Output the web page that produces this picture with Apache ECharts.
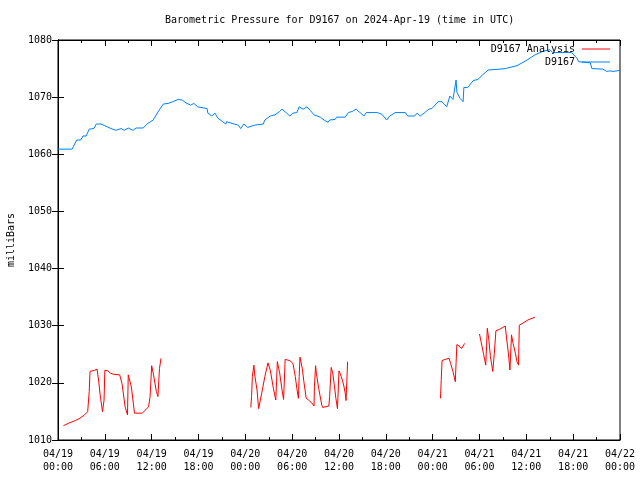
<!DOCTYPE html>
<html>
<head>
<meta charset="utf-8">
<script src="https://cdn.jsdelivr.net/npm/echarts@6/dist/echarts.min.js"></script>
<style>html,body{margin:0;padding:0;background:#fff}#c{width:640px;height:480px}</style>
</head>
<body>
<div id="c"></div>
<script>
// Hours since 2024-04-19 00:00 UTC
var blueHours = [0.0,1.8,2.4,2.9,3.2,3.6,4.0,4.6,4.9,5.5,5.7,6.0,6.8,7.4,8.1,8.5,9.0,9.6,10.0,10.9,11.5,12.2,12.8,13.5,14.1,14.7,15.4,15.9,16.4,17.0,17.4,17.9,19.1,19.2,19.7,20.1,20.5,21.1,21.5,21.6,22.3,23.1,23.4,23.8,24.3,25.2,26.3,26.5,27.2,27.8,28.4,28.7,29.3,29.7,30.1,30.6,30.9,31.4,31.9,32.3,32.8,33.6,34.2,34.6,34.8,35.5,35.7,36.8,37.2,37.7,38.2,38.7,39.2,39.5,40.9,41.5,42.1,42.5,43.2,44.5,44.8,45.7,46.0,46.4,47.0,47.5,47.9,48.7,49.2,49.8,50.2,50.6,51.0,51.1,51.5,51.9,52.0,52.5,53.2,53.8,54.4,55.1,56.6,57.3,58.8,60.1,61.1,62.1,63.0,63.4,65.8,66.5,66.7,68.2,68.4,69.8,70.3,70.7,71.1,71.6,72.0];
var blueValues = [1060.9,1060.9,1062.5,1062.5,1063.2,1063.2,1064.4,1064.5,1065.3,1065.3,1065.6,1065.0,1064.5,1064.2,1064.5,1064.2,1064.6,1064.2,1064.6,1064.6,1065.4,1066.0,1067.4,1068.8,1068.9,1069.2,1069.6,1069.5,1069.0,1068.6,1068.9,1068.3,1068.0,1067.2,1066.7,1067.2,1066.3,1065.7,1065.3,1065.7,1065.4,1065.1,1064.5,1065.3,1064.7,1065.1,1065.3,1066.0,1066.7,1066.9,1067.5,1067.9,1067.2,1066.7,1067.2,1067.3,1068.3,1067.9,1068.3,1067.7,1066.9,1066.5,1065.9,1065.6,1066.0,1066.1,1066.5,1066.5,1067.3,1067.5,1067.9,1067.3,1066.7,1067.3,1067.3,1067.0,1066.0,1066.7,1067.3,1067.3,1066.7,1066.7,1067.2,1066.7,1067.3,1067.9,1068.0,1069.2,1069.2,1068.3,1070.2,1069.6,1073.0,1070.9,1069.8,1069.2,1071.7,1071.7,1072.9,1073.1,1073.9,1074.75,1074.9,1075.0,1075.5,1076.5,1077.4,1078.0,1078.3,1077.8,1077.8,1076.8,1076.2,1076.0,1075.0,1074.9,1074.5,1074.6,1074.5,1074.6,1074.7];

// null marks a gap in the analysis series
var redHours = [0.7,1.3,2.2,2.8,3.4,3.8,4.0,4.1,4.7,5.0,5.2,5.4,5.7,5.9,6.0,6.4,6.7,7.1,7.9,8.2,8.6,8.9,9.0,9.4,9.8,10.8,11.6,11.8,12.0,12.2,12.6,12.8,13.0,13.2,
  18.0,
  24.7,24.8,24.9,25.1,25.2,25.5,25.7,26.1,26.5,26.9,27.2,27.6,27.9,28.0,28.1,28.4,28.7,28.9,29.0,29.1,29.7,30.1,30.4,30.6,30.8,30.9,31.0,31.3,31.5,31.8,32.1,32.5,32.8,32.85,33.0,33.1,33.4,33.8,33.9,34.7,34.8,35.0,35.2,35.4,35.6,35.8,35.9,36.0,36.3,36.6,36.8,36.9,37.0,37.1,
  43.0,
  49.0,49.1,49.2,49.6,50.1,50.3,50.6,50.9,51.0,51.1,51.4,51.7,51.9,52.1,
  53.0,
  54.0,54.2,54.5,54.8,54.9,55.0,55.2,55.4,55.7,55.9,56.1,56.6,57.0,57.3,57.5,57.7,57.9,58.1,58.3,58.6,58.8,59.0,59.1,59.6,60.2,61.1];
var redValues = [1012.5,1012.9,1013.4,1013.8,1014.4,1014.95,1018.5,1022.0,1022.2,1022.4,1020.5,1017.9,1014.95,1017.0,1022.2,1022.1,1021.7,1021.5,1021.4,1019.9,1015.8,1014.4,1021.4,1019.3,1014.7,1014.7,1015.8,1017.6,1023.0,1021.7,1018.5,1017.6,1022.5,1024.3,
  null,
  1015.7,1017.6,1021.1,1023.1,1021.4,1018.75,1015.5,1018.2,1021.1,1023.5,1022.2,1019.0,1017.0,1020.2,1023.7,1021.7,1018.75,1017.1,1020.5,1024.1,1023.9,1023.4,1021.1,1019.0,1017.3,1021.1,1024.5,1022.5,1020.2,1017.3,1017.0,1016.5,1015.95,1019.3,1023.0,1021.7,1019.0,1016.1,1015.7,1015.95,1017.6,1022.7,1021.7,1019.6,1017.3,1015.5,1018.75,1022.1,1021.1,1019.6,1018.2,1016.9,1020.2,1023.7,
  null,
  1017.3,1020.6,1023.9,1024.1,1024.3,1023.4,1022.0,1020.2,1023.5,1026.7,1026.45,1026.0,1026.0,1026.9,
  null,
  1028.55,1027.2,1025.2,1023.1,1026.3,1029.55,1027.5,1024.6,1022.0,1025.2,1029.1,1029.4,1029.7,1029.95,1027.5,1025.2,1022.25,1028.4,1026.9,1025.2,1023.7,1023.1,1030.1,1030.5,1031.0,1031.5];

var yTicks = [1010,1020,1030,1040,1050,1060,1070,1080];
var dayLabels = ['04/19','04/20','04/21','04/22'];

var FONT = 'DejaVu Sans Mono';
function pairs(h, v){ return h.map(function(x,i){ return [x, v[i]===null ? '-' : v[i]]; }); }
function xLabel(val){
  var d = Math.floor(val/24), hr = Math.round(val - d*24);
  return dayLabels[d] + '\n' + (hr<10?'0':'') + hr + ':00';
}

var chart = echarts.init(document.getElementById('c'), null, {renderer:'canvas'});
var tickCommon = {show:true, inside:true, length:6, lineStyle:{color:'#000', width:1}};
var minorCommon = {show:true, splitNumber:2, length:3, lineStyle:{color:'#000', width:1}};
chart.setOption({
  animation:false,
  backgroundColor:'#fff',
  title:{text:'Barometric Pressure for D9167 on 2024-Apr-19 (time in UTC)', left:160, top:10,
    textStyle:{fontFamily:FONT, fontSize:10, fontWeight:'normal', color:'#000'}},
  grid:{left:58, right:20, top:40, bottom:40, containLabel:false, outerBoundsMode:'none',
    show:true, borderColor:'#000', borderWidth:1, backgroundColor:'transparent'},
  legend:[
    {data:['D9167 Analysis'], right:30, top:44, padding:0, align:'right', itemWidth:28, itemHeight:1, itemGap:0,
      icon:'rect', textStyle:{fontFamily:FONT, fontSize:10, color:'#000', padding:[0,2,0,0]}},
    {data:['D9167'], right:30, top:57, padding:0, align:'right', itemWidth:28, itemHeight:1, itemGap:0,
      icon:'rect', textStyle:{fontFamily:FONT, fontSize:10, color:'#000', padding:[0,2,0,0]}}
  ],
  xAxis:[
    {type:'value', min:0, max:72, interval:6, position:'bottom',
      axisLine:{show:true, lineStyle:{color:'#000'}}, axisTick:tickCommon,
      minorTick:minorCommon, splitLine:{show:false},
      axisLabel:{formatter:xLabel, fontFamily:FONT, fontSize:10, color:'#000', margin:8, lineHeight:13, showMaxLabel:true, showMinLabel:true}},
    {type:'value', min:0, max:72, interval:6, position:'top',
      axisLine:{show:true, lineStyle:{color:'#000'}}, axisTick:tickCommon,
      minorTick:minorCommon, splitLine:{show:false}, axisLabel:{show:false}}
  ],
  yAxis:[
    {type:'value', min:yTicks[0], max:yTicks[yTicks.length-1], interval:10, position:'left',
      name:'milliBars', nameLocation:'middle', nameRotate:90, nameGap:42,
      nameTextStyle:{fontFamily:FONT, fontSize:10, color:'#000'},
      axisLine:{show:true, lineStyle:{color:'#000'}}, axisTick:tickCommon, splitLine:{show:false},
      axisLabel:{formatter:function(v){return String(v);}, fontFamily:FONT, fontSize:10, color:'#000', margin:6}},
    {type:'value', min:yTicks[0], max:yTicks[yTicks.length-1], interval:10, position:'right',
      axisLine:{show:true, lineStyle:{color:'#000'}}, axisTick:tickCommon, splitLine:{show:false},
      axisLabel:{show:false}}
  ],
  series:[
    {name:'D9167 Analysis', type:'line', data:pairs(redHours, redValues), showSymbol:false, symbol:'none',
      connectNulls:false, color:'#ff0000', lineStyle:{color:'#ff0000', width:1}, itemStyle:{color:'#ff0000'}},
    {name:'D9167', type:'line', data:pairs(blueHours, blueValues), showSymbol:false, symbol:'none',
      color:'#0080ff', lineStyle:{color:'#0080ff', width:1}, itemStyle:{color:'#0080ff'}}
  ]
});
</script>
</body>
</html>
